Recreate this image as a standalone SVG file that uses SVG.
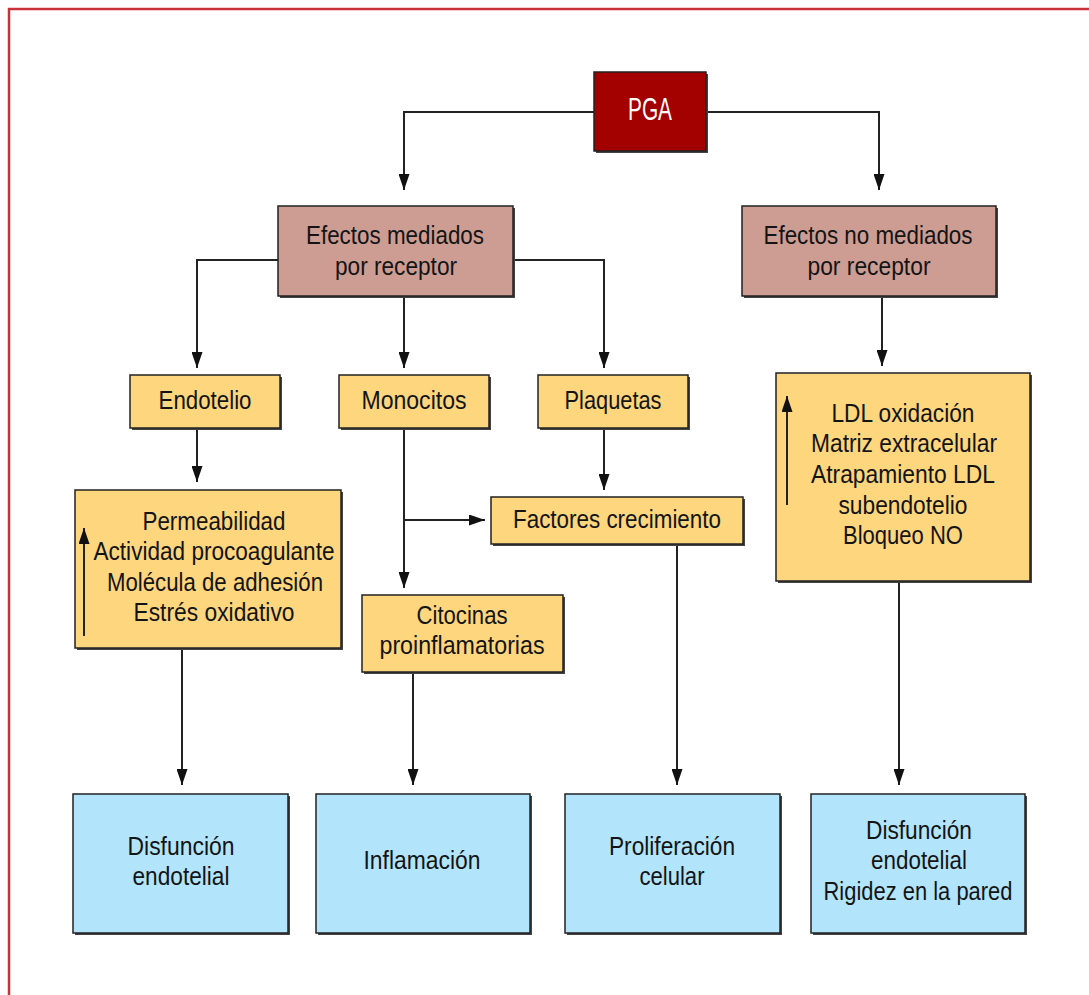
<svg xmlns="http://www.w3.org/2000/svg" width="1089" height="995" viewBox="0 0 1089 995">
<style>
text{font-family:"Liberation Sans",Arial,sans-serif;font-size:25px;fill:#141414;text-anchor:middle}
.box{stroke:#222;stroke-width:1.5}
.sh{fill:#444}
.y{fill:#fdd67e}
.p{fill:#cd9d93}
.b{fill:#b2e4fc}
.r{fill:#a30000}
.c{fill:none;stroke:#222;stroke-width:2}
</style>
<defs>
<marker id="ah" viewBox="0 0 16 11" refX="16" refY="5.5" markerWidth="16" markerHeight="11" markerUnits="userSpaceOnUse" orient="auto">
<path d="M0,0 L16,5.5 L0,11 z" fill="#111"/>
</marker>
</defs>
<rect width="1089" height="995" fill="#fff"/>
<path d="M9,995 V9 H1089" fill="none" stroke="#c8303a" stroke-width="2.5"/>

<g id="connectors">
<path class="c" d="M594,112 H404 V190" marker-end="url(#ah)"/>
<path class="c" d="M706,112 H879 V190" marker-end="url(#ah)"/>
<path class="c" d="M278,260 H197 V368" marker-end="url(#ah)"/>
<path class="c" d="M404,296 V368" marker-end="url(#ah)"/>
<path class="c" d="M513,260 H604 V368" marker-end="url(#ah)"/>
<path class="c" d="M882,296 V366" marker-end="url(#ah)"/>
<path class="c" d="M197,428 V482" marker-end="url(#ah)"/>
<path class="c" d="M404,428 V588" marker-end="url(#ah)"/>
<path class="c" d="M404,520 H485" marker-end="url(#ah)"/>
<path class="c" d="M604,428 V490" marker-end="url(#ah)"/>
<path class="c" d="M182,648 V785" marker-end="url(#ah)"/>
<path class="c" d="M413,672 V785" marker-end="url(#ah)"/>
<path class="c" d="M677,544 V785" marker-end="url(#ah)"/>
<path class="c" d="M899,581 V785" marker-end="url(#ah)"/>
</g>

<g id="pga">
<rect class="sh" x="596" y="74" width="112" height="79"/>
<rect class="box r" x="594" y="72" width="112" height="79"/>
<text x="650" y="120" textLength="44" lengthAdjust="spacingAndGlyphs" style="fill:#fff;font-size:31px">PGA</text>
</g>

<g id="mediados">
<rect class="sh" x="280" y="208" width="235" height="90"/>
<rect class="box p" x="278" y="206" width="235" height="90"/>
<text x="395" y="244" textLength="178" lengthAdjust="spacingAndGlyphs">Efectos mediados</text>
<text x="396" y="275" textLength="122" lengthAdjust="spacingAndGlyphs">por receptor</text>
</g>

<g id="no-mediados">
<rect class="sh" x="744" y="208" width="254" height="90"/>
<rect class="box p" x="742" y="206" width="254" height="90"/>
<text x="868" y="244" textLength="209" lengthAdjust="spacingAndGlyphs">Efectos no mediados</text>
<text x="869" y="275" textLength="123" lengthAdjust="spacingAndGlyphs">por receptor</text>
</g>

<g id="endotelio">
<rect class="sh" x="132" y="377" width="150" height="53"/>
<rect class="box y" x="130" y="375" width="150" height="53"/>
<text x="205" y="409" textLength="93" lengthAdjust="spacingAndGlyphs">Endotelio</text>
</g>

<g id="monocitos">
<rect class="sh" x="341" y="377" width="150" height="53"/>
<rect class="box y" x="339" y="375" width="150" height="53"/>
<text x="414" y="409" textLength="105" lengthAdjust="spacingAndGlyphs">Monocitos</text>
</g>

<g id="plaquetas">
<rect class="sh" x="540" y="377" width="150" height="53"/>
<rect class="box y" x="538" y="375" width="150" height="53"/>
<text x="613" y="409" textLength="97" lengthAdjust="spacingAndGlyphs">Plaquetas</text>
</g>

<g id="permeabilidad">
<rect class="sh" x="77" y="492" width="266" height="158"/>
<rect class="box y" x="75" y="490" width="266" height="158"/>
<path class="c" d="M84,636 V528" marker-end="url(#ah)"/>
<text x="214" y="530" textLength="143" lengthAdjust="spacingAndGlyphs">Permeabilidad</text>
<text x="214" y="560" textLength="241" lengthAdjust="spacingAndGlyphs">Actividad procoagulante</text>
<text x="215" y="591" textLength="216" lengthAdjust="spacingAndGlyphs">Molécula de adhesión</text>
<text x="214" y="621" textLength="161" lengthAdjust="spacingAndGlyphs">Estrés oxidativo</text>
</g>

<g id="ldl">
<rect class="sh" x="778" y="375" width="254" height="208"/>
<rect class="box y" x="776" y="373" width="254" height="208"/>
<path class="c" d="M787,505 V396" marker-end="url(#ah)"/>
<text x="903" y="422" textLength="143" lengthAdjust="spacingAndGlyphs">LDL oxidación</text>
<text x="904" y="452" textLength="186" lengthAdjust="spacingAndGlyphs">Matriz extracelular</text>
<text x="903" y="483" textLength="184" lengthAdjust="spacingAndGlyphs">Atrapamiento LDL</text>
<text x="903" y="514" textLength="129" lengthAdjust="spacingAndGlyphs">subendotelio</text>
<text x="903" y="544" textLength="120" lengthAdjust="spacingAndGlyphs">Bloqueo NO</text>
</g>

<g id="factores">
<rect class="sh" x="493" y="499" width="252" height="47"/>
<rect class="box y" x="491" y="497" width="252" height="47"/>
<text x="617" y="528" textLength="208" lengthAdjust="spacingAndGlyphs">Factores crecimiento</text>
</g>

<g id="citocinas">
<rect class="sh" x="364" y="597" width="201" height="77"/>
<rect class="box y" x="362" y="595" width="201" height="77"/>
<text x="462" y="624" textLength="91" lengthAdjust="spacingAndGlyphs">Citocinas</text>
<text x="462" y="654" textLength="165" lengthAdjust="spacingAndGlyphs">proinflamatorias</text>
</g>

<g id="disfuncion">
<rect class="sh" x="75" y="796" width="215" height="139"/>
<rect class="box b" x="73" y="794" width="215" height="139"/>
<text x="181" y="855" textLength="107" lengthAdjust="spacingAndGlyphs">Disfunción</text>
<text x="181" y="885" textLength="97" lengthAdjust="spacingAndGlyphs">endotelial</text>
</g>

<g id="inflamacion">
<rect class="sh" x="318" y="796" width="214" height="139"/>
<rect class="box b" x="316" y="794" width="214" height="139"/>
<text x="422" y="869" textLength="117" lengthAdjust="spacingAndGlyphs">Inflamación</text>
</g>

<g id="proliferacion">
<rect class="sh" x="567" y="796" width="215" height="139"/>
<rect class="box b" x="565" y="794" width="215" height="139"/>
<text x="672" y="855" textLength="126" lengthAdjust="spacingAndGlyphs">Proliferación</text>
<text x="672" y="885" textLength="65" lengthAdjust="spacingAndGlyphs">celular</text>
</g>

<g id="rigidez">
<rect class="sh" x="813" y="796" width="214" height="139"/>
<rect class="box b" x="811" y="794" width="214" height="139"/>
<text x="919" y="839" textLength="106" lengthAdjust="spacingAndGlyphs">Disfunción</text>
<text x="919" y="869" textLength="96" lengthAdjust="spacingAndGlyphs">endotelial</text>
<text x="918" y="900" textLength="189" lengthAdjust="spacingAndGlyphs">Rigidez en la pared</text>
</g>
</svg>
